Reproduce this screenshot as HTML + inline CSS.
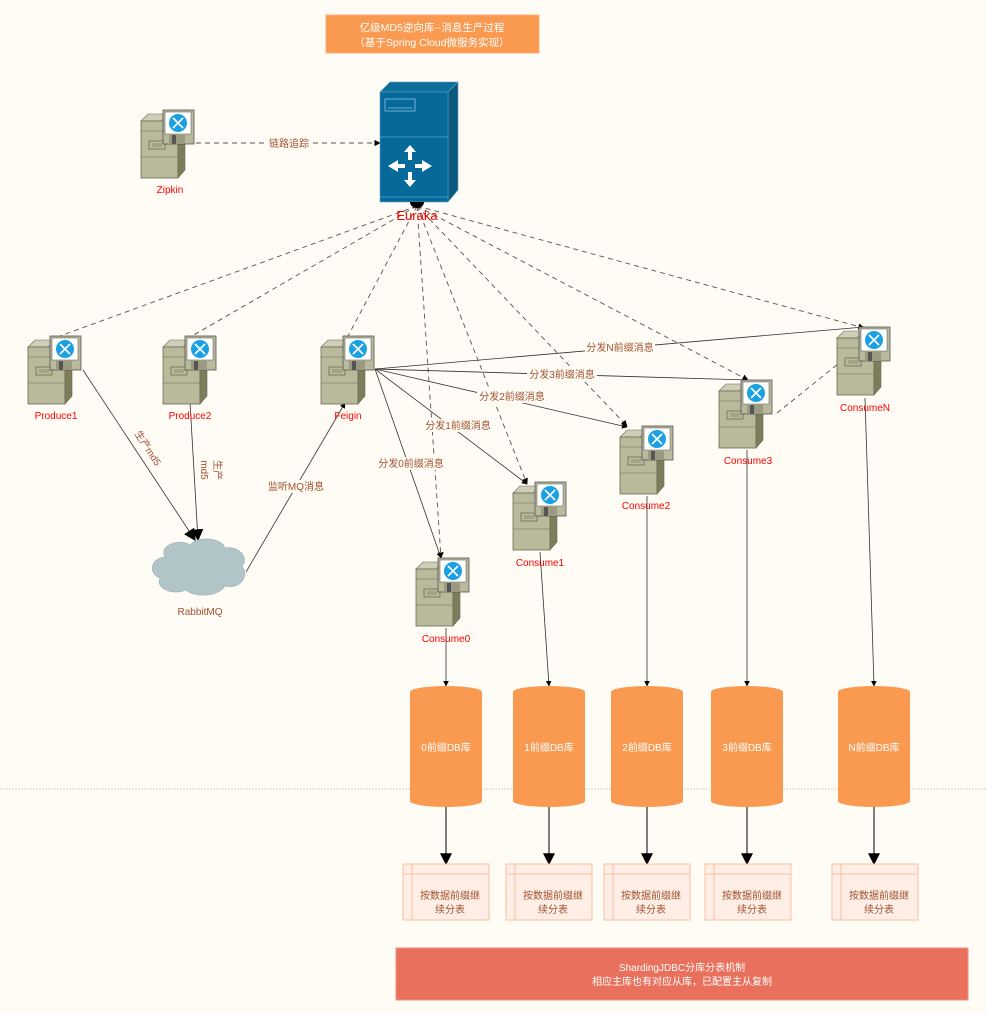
<!DOCTYPE html>
<html><head><meta charset="utf-8"><style>
body{margin:0;background:#fffbf5;}
svg{display:block;font-family:"Liberation Sans","Noto Sans CJK SC",sans-serif;}
</style></head><body>
<svg width="986" height="1014" viewBox="0 0 986 1014" xmlns="http://www.w3.org/2000/svg">
<defs>
<marker id="a" viewBox="0 0 10 10" refX="9" refY="5" markerWidth="7" markerHeight="7" orient="auto"><path d="M0,0L10,5L0,10z" fill="#000"/></marker>
<marker id="b" viewBox="0 0 10 10" refX="9" refY="5" markerWidth="12" markerHeight="12" orient="auto" markerUnits="userSpaceOnUse"><path d="M0,0L10,5L0,10z" fill="#000"/></marker>
<g id="srv">
<polygon points="0,11 7,4 27,4 20,11" fill="#cfcfb9" stroke="#6b6b50" stroke-width="0.6"/>
<rect x="0" y="11" width="37" height="57" fill="#b9b99c" stroke="#6b6b50" stroke-width="0.8"/>
<polygon points="37,11 44,4 44,60 37,68" fill="#7d7d5c" stroke="#6b6b50" stroke-width="0.6"/>
<line x1="0" y1="21" x2="37" y2="21" stroke="#6b6b50" stroke-width="0.6"/>
<line x1="0" y1="47" x2="37" y2="47" stroke="#6b6b50" stroke-width="0.6"/>
<rect x="8" y="31" width="16" height="8" fill="none" stroke="#6b6b50" stroke-width="0.8"/>
<line x1="11" y1="34" x2="21" y2="34" stroke="#6b6b50" stroke-width="0.6"/>
<line x1="11" y1="36" x2="21" y2="36" stroke="#6b6b50" stroke-width="0.6"/>
<rect x="22" y="0" width="31" height="34" fill="#b9b99c" stroke="#555" stroke-width="0.8"/>
<rect x="24" y="2" width="26" height="22" fill="#fff" stroke="#555" stroke-width="0.5"/>
<circle cx="37" cy="13" r="9" fill="#1ba1e2"/>
<path d="M32,8L42,18M42,8L32,18" stroke="#fff" stroke-width="1.6"/>
<rect x="28" y="25" width="16" height="9" fill="#9a9a80"/>
<rect x="31" y="25" width="4" height="9" fill="#555"/>
</g>
<g id="db">
<path d="M0,6 A36,6 0 0 1 72,6 L72,115 A36,6 0 0 1 0,115 Z" fill="#fa9950"/>
</g>
<g id="tb">
<rect x="0" y="0" width="86" height="56" fill="#ffeee5" stroke="#fbc0a0"/>
<line x1="0" y1="10" x2="86" y2="10" stroke="#fbc0a0"/>
<line x1="9" y1="0" x2="9" y2="56" stroke="#fbc0a0"/>
</g>
</defs>

<rect x="326" y="15" width="213" height="38" fill="#fa9950" stroke="#fbb07a"/>
<text x="432" y="31" font-size="10.5" fill="#fff" text-anchor="middle">亿级MD5逆向库--消息生产过程</text>
<text x="432" y="46" font-size="10.5" fill="#fff" text-anchor="middle">（基于Spring Cloud微服务实现）</text>

<line x1="0" y1="789" x2="986" y2="789" stroke="#d8d0c8" stroke-dasharray="2,1"/>

<g stroke="#555" stroke-width="0.9" stroke-dasharray="5,4" fill="none">
<line x1="417" y1="206" x2="60" y2="336"/>
<line x1="417" y1="206" x2="192" y2="336"/>
<line x1="417" y1="206" x2="348" y2="336"/>
<line x1="417" y1="206" x2="441" y2="558" marker-end="url(#a)"/>
<line x1="417" y1="206" x2="527" y2="484" marker-end="url(#a)"/>
<line x1="417" y1="206" x2="627" y2="426" marker-end="url(#a)"/>
<line x1="417" y1="206" x2="748" y2="380" marker-end="url(#a)"/>
<line x1="417" y1="206" x2="864" y2="328" marker-end="url(#a)"/>
<line x1="777" y1="413" x2="838" y2="364"/>
<line x1="196" y1="143" x2="380" y2="143" marker-end="url(#a)"/>
</g>
<rect x="265" y="136" width="48" height="14" fill="#fffbf5"/>
<text x="289" y="147" font-size="10" fill="#a0522d" text-anchor="middle">链路追踪</text>

<g stroke="#333" stroke-width="0.8" fill="none">
<line x1="375" y1="369" x2="864" y2="327" marker-end="url(#a)"/>
<line x1="375" y1="369" x2="748" y2="380" marker-end="url(#a)"/>
<line x1="375" y1="369" x2="627" y2="427" marker-end="url(#a)"/>
<line x1="375" y1="369" x2="527" y2="484" marker-end="url(#a)"/>
<line x1="375" y1="369" x2="441" y2="558" marker-end="url(#a)"/>
<line x1="83" y1="370" x2="195" y2="540" marker-end="url(#b)"/>
<line x1="190" y1="402" x2="198" y2="540" marker-end="url(#b)"/>
<line x1="246" y1="572" x2="345" y2="403" marker-end="url(#a)"/>
<line x1="446" y1="628" x2="446" y2="686" marker-end="url(#a)"/>
<line x1="540" y1="552" x2="549" y2="686" marker-end="url(#a)"/>
<line x1="647" y1="496" x2="647" y2="686" marker-end="url(#a)"/>
<line x1="747" y1="450" x2="747" y2="686" marker-end="url(#a)"/>
<line x1="865" y1="398" x2="874" y2="686" marker-end="url(#a)"/>
</g>
<g font-size="10" fill="#a0522d" text-anchor="middle">
<rect x="585" y="341" width="70" height="13" fill="#fffbf5"/><text x="620" y="351">分发N前缀消息</text>
<rect x="527" y="368" width="70" height="13" fill="#fffbf5"/><text x="562" y="378">分发3前缀消息</text>
<rect x="477" y="390" width="70" height="13" fill="#fffbf5"/><text x="512" y="400">分发2前缀消息</text>
<rect x="423" y="419" width="70" height="13" fill="#fffbf5"/><text x="458" y="429">分发1前缀消息</text>
<rect x="376" y="457" width="70" height="13" fill="#fffbf5"/><text x="411" y="467">分发0前缀消息</text>
<rect x="266" y="480" width="60" height="13" fill="#fffbf5"/><text x="296" y="490">监听MQ消息</text>
<text x="145" y="450" transform="rotate(57 145 450)">生产md5</text>
<text x="214" y="470" transform="rotate(90 214 470)">生产</text>
<text x="201" y="470" transform="rotate(90 201 470)">md5</text>
</g>

<polygon points="380,92 390,82 458,82 448,92" fill="#0e6e9a" stroke="#5aa0c8" stroke-width="0.6"/>
<polygon points="448,92 458,82 458,190 448,202" fill="#0a5a80" stroke="#5aa0c8" stroke-width="0.6"/>
<rect x="380" y="92" width="68" height="110" fill="#05699a" stroke="#5aa0c8" stroke-width="0.6"/>
<rect x="385" y="99" width="30" height="12" fill="none" stroke="#8cc0e0" stroke-width="0.8"/>
<line x1="388" y1="108" x2="412" y2="108" stroke="#8cc0e0" stroke-width="0.8"/>
<line x1="380" y1="137" x2="448" y2="137" stroke="#8cc0e0" stroke-width="0.6"/>
<line x1="380" y1="197" x2="448" y2="197" stroke="#8cc0e0" stroke-width="0.6"/>
<g fill="#fff">
<polygon points="410,145 404,152 408,152 408,160 412,160 412,152 416,152"/>
<polygon points="410,187 404,180 408,180 408,172 412,172 412,180 416,180"/>
<polygon points="388,166 398,160 398,164 405,164 405,168 398,168 398,172"/>
<polygon points="432,166 422,160 422,164 415,164 415,168 422,168 422,172"/>
</g>
<path d="M410,202 A7,6 0 0 0 424,202 Z" fill="#000"/>
<text x="417" y="220" font-size="13" fill="#f00" text-anchor="middle">Euraka</text>

<use href="#srv" x="141" y="110"/>
<use href="#srv" x="28" y="336"/>
<use href="#srv" x="163" y="336"/>
<use href="#srv" x="321" y="336"/>
<use href="#srv" x="416" y="558"/>
<use href="#srv" x="513" y="482"/>
<use href="#srv" x="620" y="426"/>
<use href="#srv" x="719" y="380"/>
<use href="#srv" x="837" y="327"/>
<g font-size="10" fill="#f00" text-anchor="middle">
<text x="170" y="193">Zipkin</text>
<text x="56" y="419">Produce1</text>
<text x="190" y="419">Produce2</text>
<text x="348" y="419">Feigin</text>
<text x="446" y="642">Consume0</text>
<text x="540" y="566">Consume1</text>
<text x="646" y="509">Consume2</text>
<text x="748" y="464">Consume3</text>
<text x="865" y="411">ConsumeN</text>
</g>

<path d="M165,557 C158,545 180,538 190,545 C198,535 222,538 225,548 C238,545 250,558 242,566 C250,576 240,590 225,586 C218,597 195,598 186,590 C172,596 155,588 160,578 C148,574 150,558 165,557 Z" fill="#b1c4c8" stroke="#9fb3b8" stroke-width="0.6"/>
<text x="200" y="615" font-size="10" fill="#a0522d" text-anchor="middle">RabbitMQ</text>

<use href="#db" x="410" y="686"/>
<use href="#db" x="513" y="686"/>
<use href="#db" x="611" y="686"/>
<use href="#db" x="711" y="686"/>
<use href="#db" x="838" y="686"/>
<g font-size="10" fill="#fff" text-anchor="middle">
<text x="446" y="751">0前缀DB库</text>
<text x="549" y="751">1前缀DB库</text>
<text x="647" y="751">2前缀DB库</text>
<text x="747" y="751">3前缀DB库</text>
<text x="874" y="751">N前缀DB库</text>
</g>
<g stroke="#000" stroke-width="1">
<line x1="446" y1="807" x2="446" y2="864" marker-end="url(#b)"/>
<line x1="549" y1="807" x2="549" y2="864" marker-end="url(#b)"/>
<line x1="647" y1="807" x2="647" y2="864" marker-end="url(#b)"/>
<line x1="747" y1="807" x2="747" y2="864" marker-end="url(#b)"/>
<line x1="874" y1="807" x2="874" y2="864" marker-end="url(#b)"/>
</g>

<use href="#tb" x="403" y="864"/>
<use href="#tb" x="506" y="864"/>
<use href="#tb" x="604" y="864"/>
<use href="#tb" x="705" y="864"/>
<use href="#tb" x="832" y="864"/>
<g font-size="10" fill="#a0522d" text-anchor="middle">
<text x="450" y="899">按数据前缀继</text><text x="450" y="913">续分表</text>
<text x="553" y="899">按数据前缀继</text><text x="553" y="913">续分表</text>
<text x="651" y="899">按数据前缀继</text><text x="651" y="913">续分表</text>
<text x="752" y="899">按数据前缀继</text><text x="752" y="913">续分表</text>
<text x="879" y="899">按数据前缀继</text><text x="879" y="913">续分表</text>
</g>

<rect x="396" y="948" width="572" height="52" fill="#e8705c" stroke="#f09080"/>
<text x="682" y="971" font-size="10" fill="#fff" text-anchor="middle">ShardingJDBC分库分表机制</text>
<text x="682" y="985" font-size="10" fill="#fff" text-anchor="middle">相应主库也有对应从库，已配置主从复制</text>
</svg>
</body></html>
